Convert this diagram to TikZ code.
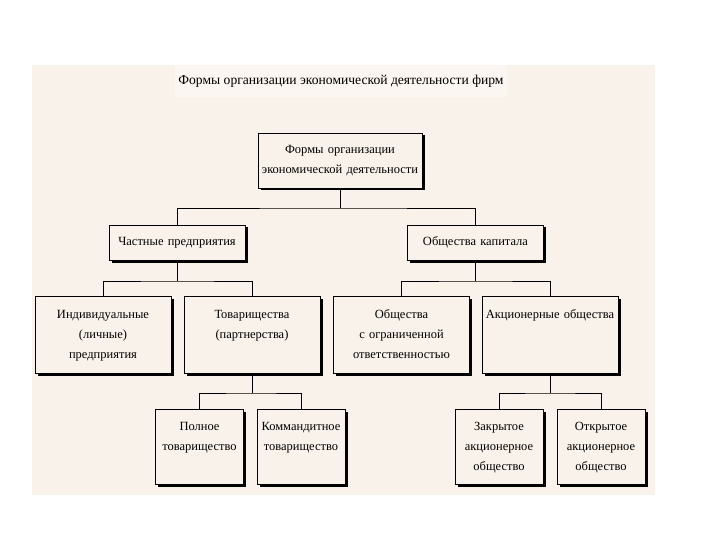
\documentclass[tikz,border=0pt]{standalone}
\usepackage{fontspec}
\setmainfont{Liberation Serif}
\usepackage{tikz}
\usetikzlibrary{shadows}
\definecolor{paper}{RGB}{249,242,234}
\definecolor{titlepaper}{RGB}{251,246,241}

\begin{document}
\begin{tikzpicture}[x=1pt, y=-1pt, line width=0.8pt,
        box/.style={draw, fill=paper, align=center, inner xsep=2pt, inner ysep=3pt,
            font=\fontsize{12.5}{20}\selectfont,
            drop shadow={shadow xshift=2.5pt, shadow yshift=-2.5pt, fill=black, opacity=1}},
        midbox/.style={box, text width=132pt, minimum height=35pt},
        bigbox/.style={box, text width=132pt, text height=19pt, text depth=52pt},
        smallbox/.style={box, text width=84pt, text height=18pt, text depth=51pt}]
                \useasboundingbox (0,0) rectangle (720,540);
                \fill[paper] (32,65) rectangle (655,495);

                \node[fill=titlepaper, minimum width=328pt, minimum height=32pt,
                    font=\fontsize{13.6}{20}\selectfont] (title) at (341,81)
                    {Формы организации экономической деятельности фирм};

                \node[box, text width=160pt, minimum height=55pt] (F) at (340,160.5)
                    {Формы организации\\экономической деятельности};

                \node[midbox] (P) at (177,242.5) {Частные предприятия};
                \node[midbox] (K) at (475.5,242.5) {Общества капитала};

                \node[bigbox] (I) at (103,334.5) {Индивидуальные\\(личные)\\предприятия};
                \node[bigbox] (T) at (252,334.5) {Товарищества\\(партнерства)};
                \node[bigbox] (O) at (401.5,334.5) {Общества\\с ограниченной\\ответственностью};
                \node[bigbox] (A) at (550,334.5) {Акционерные общества};

                \node[smallbox] (T1) at (199.5,446.5) {Полное\\товарищество};
                \node[smallbox] (T2) at (301,446.5) {Коммандитное\\товарищество};
                \node[smallbox] (A1) at (499,446.5) {Закрытое\\акционерное\\общество};
                \node[smallbox] (A2) at (601,446.5) {Открытое\\акционерное\\общество};

                \coordinate (b1) at (340,208);
                \coordinate (b2) at (177,281);
                \coordinate (b3) at (475.5,281);
                \coordinate (b4) at (252,393);
                \coordinate (b5) at (550,393);

                \draw (F) -- (b1);
                \draw (P.north) |- (b1) -| (K.north);
                \draw (P) -- (b2);
                \draw (I.north) |- (b2) -| (T.north);
                \draw (K) -- (b3);
                \draw (O.north) |- (b3) -| (A.north);
                \draw (T) -- (b4);
                \draw (T1.north) |- (b4) -| (T2.north);
                \draw (A) -- (b5);
                \draw (A1.north) |- (b5) -| (A2.north);
            \end{tikzpicture}
\end{document}
